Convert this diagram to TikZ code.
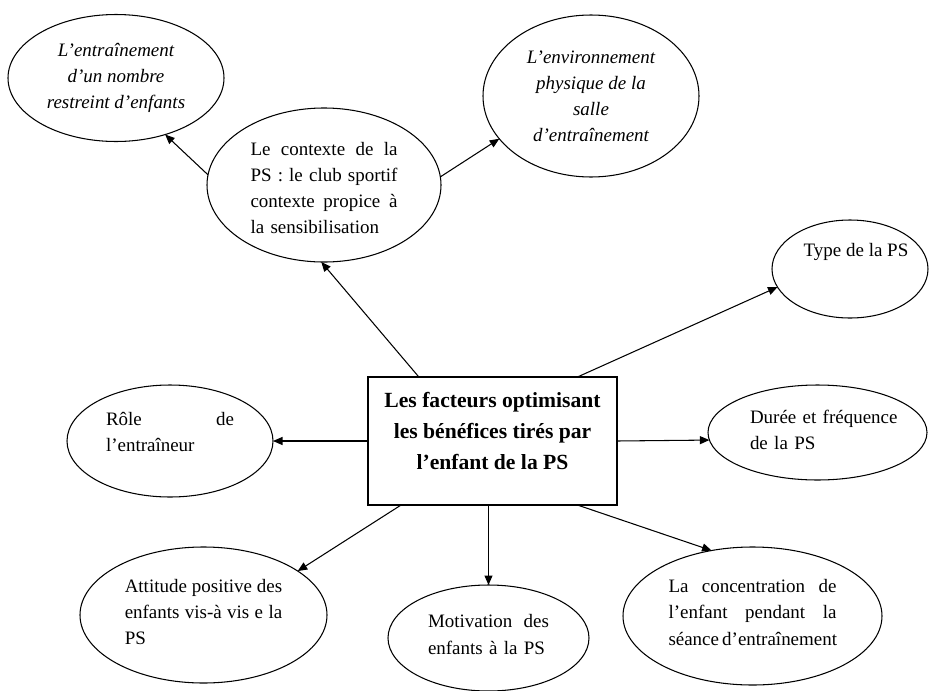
\documentclass[tikz,border=0pt]{standalone}
\usepackage{fontspec}
\setmainfont{Liberation Serif}
\usetikzlibrary{arrows.meta,calc,shapes.geometric}
\newcommand{\ligne}[1]{\makebox[\hsize][s]{\spaceskip=0pt\xspaceskip=0pt #1}}

\begin{document}
\begin{tikzpicture}[>={Triangle[length=1.9mm,width=1.6mm]},
  bulle/.style={draw,ellipse,line width=0.6pt,inner sep=0pt,outer sep=0pt},
  texte/.style={inner sep=0pt,font=\fontsize{10.8}{14.8}\selectfont},
  fleche/.style={->,line width=0.6pt}]
  \useasboundingbox (0,0) rectangle (18.58,-13.82);

  % cadre central
  \node[draw,line width=0.6pt,minimum width=4.98cm,minimum height=2.56cm,
        inner sep=0pt,outer sep=0pt] (box) at (9.85,-8.82) {};
  \node[inner sep=0pt,align=center,font=\bfseries\fontsize{12.3}{17.6}\selectfont]
    (boxT) at ([yshift=0.2cm]box.center)
    {Les facteurs optimisant\\les bénéfices tirés par\\l’enfant de la PS};

  % bulles du haut
  \node[bulle,minimum width=4.68cm,minimum height=3.08cm] (ctx) at (6.48,-3.70) {};
  \node[texte,text width=2.94cm,align=left] (ctxT) at ([yshift=-0.06cm]ctx.center)
    {\ligne{Le contexte de la}\\\ligne{PS : le club sportif}\\
     \ligne{contexte propice à}\\la sensibilisation};
  \node[bulle,minimum width=4.32cm,minimum height=2.54cm] (ent) at (2.32,-1.56) {};
  \node[texte,align=center,font=\itshape\fontsize{10.8}{14.8}\selectfont] (entT) at (ent.center)
    {L’entraînement\\d’un nombre\\restreint d’enfants};
  \node[bulle,minimum width=4.32cm,minimum height=3.24cm] (env) at (11.82,-1.92) {};
  \node[texte,align=center,font=\itshape\fontsize{10.8}{14.8}\selectfont] (envT) at (env.center)
    {L’environnement\\physique de la\\salle\\d’entraînement};

  % bulles de droite
  \node[bulle,minimum width=3.12cm,minimum height=1.96cm] (type) at (17.00,-5.38) {};
  \node[texte] (typeT) at ([shift={(0.12,0.34)}]type.center) {Type de la PS};
  \node[bulle,minimum width=4.38cm,minimum height=1.90cm] (duree) at (16.35,-8.65) {};
  \node[texte,text width=3.2cm,align=left] (dureeT) at ([shift={(0.25,0.06)}]duree.center)
    {Durée et fréquence\\de la PS};

  % bulles de gauche et du bas
  \node[bulle,minimum width=4.12cm,minimum height=2.24cm] (role) at (3.40,-8.82) {};
  \node[texte,text width=2.56cm,align=left] (roleT) at ([yshift=0.18cm]role.center)
    {\ligne{Rôle \hfill de}\\l’entraîneur};
  \node[bulle,minimum width=4.94cm,minimum height=2.72cm] (att) at (4.07,-12.30) {};
  \node[texte,text width=3.15cm,align=left] (attT) at ([yshift=0.06cm]att.center)
    {\ligne{Attitude positive des}\\\ligne{enfants vis-à vis e la}\\PS};
  \node[bulle,minimum width=4.02cm,minimum height=2.12cm] (moti) at (9.77,-12.76) {};
  \node[texte,text width=2.42cm,align=left] (motiT) at ([yshift=0.07cm]moti.center)
    {\ligne{Motivation des}\\enfants à la PS};
  \node[bulle,minimum width=5.18cm,minimum height=2.76cm] (conc) at (15.05,-12.32) {};
  \node[texte,text width=3.36cm,align=left] (concT) at ([yshift=0.07cm]conc.center)
    {\ligne{La concentration de}\\\ligne{l’enfant pendant la}\\\ligne{séance d’entraînement}};

  % fleches
  \draw[fleche] (box.139) -- (ctx.268);
  \draw[fleche] (ctx.175) -- (ent.311);
  \draw[fleche] (ctx.4) -- (env.205);
  \draw[fleche] (box.37) -- (type.194);
  \draw[fleche] (box.west) -- (role.east);
  \draw[fleche] (box.east) -- (duree.184);
  \draw[fleche] (box.215) -- (att.25);
  \draw[fleche] (moti.north |- box.south) -- (moti.north);
  \draw[fleche] (box.323) -- (conc.122);
\end{tikzpicture}
\end{document}
